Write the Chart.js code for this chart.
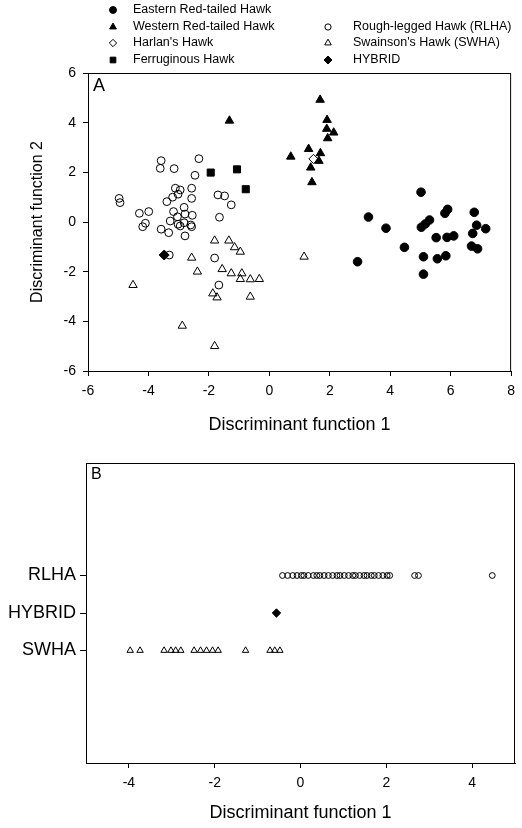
<!DOCTYPE html>
<html>
<head>
<meta charset="utf-8">
<script src="https://cdn.jsdelivr.net/npm/chart.js@4.4.1/dist/chart.umd.min.js"></script>
<style>
  body { margin: 0; background: #fff; }
  canvas { display: block; }
</style>
</head>
<body>
<canvas id="panelA" width="522" height="440"></canvas>
<canvas id="panelB" width="522" height="388"></canvas>
<script>
// Panel A: discriminant function 1 / 2 scores per group, [df1, df2]
const eastern = [
  [5.02, 1.20], [3.28, 0.20], [3.86, -0.25], [5.90, 0.51], [5.81, 0.35], [5.30, 0.08],
  [5.16, -0.08], [5.03, -0.21], [6.78, 0.39], [6.86, -0.13], [7.16, -0.27], [6.73, -0.46],
  [5.52, -0.63], [5.88, -0.62], [6.10, -0.56], [4.47, -1.02], [6.69, -0.97], [6.89, -1.08],
  [5.10, -1.40], [5.56, -1.48], [5.84, -1.36], [2.92, -1.60], [5.10, -2.10]
];
const western = [
  [-1.32, 4.08], [0.71, 2.63], [1.68, 4.92], [1.91, 4.11], [1.90, 3.75], [2.13, 3.60],
  [1.93, 3.37], [1.30, 2.94], [1.69, 2.77], [1.64, 2.46], [1.37, 2.19], [1.41, 1.60]
];
const harlan = [[1.46, 2.54]];
const ferruginous = [[-1.94, 1.99], [-1.07, 2.12], [-0.78, 1.32]];
const roughLegged = [
  [-4.97, 0.95], [-4.94, 0.78], [-4.30, 0.35], [-3.99, 0.42], [-4.19, -0.19], [-4.10, -0.05],
  [-3.61, 2.16], [-3.58, 2.47], [-3.15, 2.15], [-2.33, 2.55], [-2.46, 1.88], [-3.11, 1.36],
  [-2.95, 1.29], [-2.57, 1.36], [-3.20, 1.00], [-3.02, 1.12], [-2.57, 0.95], [-3.39, 0.82],
  [-2.82, 0.59], [-3.17, 0.42], [-3.04, 0.21], [-2.79, 0.32], [-2.55, 0.27], [-3.28, 0.04],
  [-3.02, -0.09], [-2.82, -0.03], [-2.95, -0.16], [-2.60, -0.12], [-2.57, -0.19], [-3.58, -0.29],
  [-3.33, -0.43], [-2.79, -0.56], [-1.70, 1.09], [-1.48, 1.05], [-1.26, 0.69], [-1.65, 0.19],
  [-3.31, -1.33], [-1.81, -1.45], [-1.67, -2.54]
];
const swainson = [
  [-1.81, -0.75], [-1.34, -0.75], [-1.15, -1.02], [-0.96, -1.20], [-2.57, -1.44], [-2.38, -2.00],
  [-1.56, -1.90], [-1.26, -2.07], [-0.91, -2.07], [-0.96, -2.30], [-0.63, -2.31], [-0.33, -2.30],
  [-4.51, -2.54], [-1.87, -2.88], [-1.73, -3.04], [-0.63, -3.01], [-2.88, -4.18], [-1.81, -5.00],
  [1.15, -1.40]
];
const hybrid = [[-3.48, -1.33]];

// Panel B: discriminant function 1 scores
const groupNames = ['SWHA', 'HYBRID', 'RLHA'];
const bTicks = [-4, -2, 0, 2, 4];
const swhaScores = [-3.97, -3.74, -3.18, -3.02, -2.91, -2.79, -2.48, -2.33, -2.19, -2.05, -1.92,
  -1.28, -0.71, -0.60, -0.48];
const hybridScores = [-0.56];
const rlhaScores = [-0.42, -0.30, -0.18, -0.08, 0.02, 0.08, 0.18, 0.30, 0.38, 0.45, 0.55, 0.65,
  0.75, 0.85, 0.92, 1.02, 1.12, 1.22, 1.28, 1.38, 1.48, 1.55, 1.65, 1.72, 1.82, 1.92, 2.02, 2.08,
  2.66, 2.75, 4.47];

const toXY = arr => arr.map(([x, y]) => ({ x: x, y: y }));
const onRow = (arr, row) => arr.map(x => ({ x: x, y: row }));

const FONT = 'Arial, "Liberation Sans", sans-serif';
const OPEN = 'rgba(0,0,0,0)';

function series(label, data, style, radius, filled) {
  return {
    label: label,
    data: data,
    pointStyle: style,
    pointRadius: radius,
    borderWidth: 1,
    borderColor: '#000',
    backgroundColor: filled ? '#000' : OPEN,
    showLine: false
  };
}

// full box round the plot area + panel letter
const frame = {
  id: 'frame',
  afterDraw(chart) {
    const a = chart.chartArea, ctx = chart.ctx;
    ctx.save();
    ctx.strokeStyle = '#000';
    ctx.lineWidth = 1;
    ctx.strokeRect(a.left + 0.5, a.top + 0.5, a.right - a.left - 1, a.bottom - a.top);
    ctx.font = chart.options.plugins.frame.font;
    ctx.fillStyle = '#000';
    ctx.textBaseline = 'top';
    ctx.fillText(chart.options.plugins.frame.letter, a.left + 5, a.top + 4);
    ctx.restore();
  }
};

// legend placed in two columns above panel A
const legendSlots = [[113, 10], [113, 27], [113, 43], [113, 60], [328, 27], [328, 43], [328, 60]];
const legendOrder = ['Eastern Red-tailed Hawk', 'Western Red-tailed Hawk', "Harlan's Hawk",
  'Ferruginous Hawk', 'Rough-legged Hawk (RLHA)', "Swainson's Hawk (SWHA)", 'HYBRID'];

const topLegend = {
  id: 'topLegend',
  afterDraw(chart) {
    const ctx = chart.ctx;
    ctx.save();
    ctx.font = '12.5px ' + FONT;
    ctx.textBaseline = 'middle';
    legendOrder.forEach((name, i) => {
      const ds = chart.data.datasets.find(d => d.label === name);
      const [x, y] = legendSlots[i];
      ctx.fillStyle = ds.backgroundColor;
      ctx.strokeStyle = '#000';
      ctx.lineWidth = 1;
      Chart.helpers.drawPoint(ctx, {
        pointStyle: ds.pointStyle, radius: ds.pointRadius * 0.8, rotation: 0, borderWidth: 1
      }, x, y);
      ctx.fillStyle = '#000';
      ctx.fillText(name, x + 20 + (i > 3 ? 5 : 0), y);
    });
    ctx.restore();
  }
};

function axis(min, max, title, titleSize, titlePad, extra) {
  return Object.assign({
    type: 'linear',
    min: min,
    max: max,
    grid: { drawOnChartArea: false, drawTicks: true, tickLength: 5, color: '#000' },
    border: { display: true, color: '#000', width: 1 },
    ticks: { stepSize: 2, color: '#000', font: { family: FONT, size: 14 }, padding: 7 },
    title: { display: true, text: title, color: '#000', font: { family: FONT, size: titleSize }, padding: titlePad }
  }, extra || {});
}

new Chart(document.getElementById('panelA'), {
  type: 'scatter',
  data: {
    datasets: [
      series('Rough-legged Hawk (RLHA)', toXY(roughLegged), 'circle', 3.9, false),
      series("Swainson's Hawk (SWHA)", toXY(swainson), 'triangle', 4.8, false),
      series("Harlan's Hawk", toXY(harlan), 'rectRot', 4.6, false),
      series('Eastern Red-tailed Hawk', toXY(eastern), 'circle', 4.3, true),
      series('Western Red-tailed Hawk', toXY(western), 'triangle', 4.9, true),
      series('Ferruginous Hawk', toXY(ferruginous), 'rect', 5, true),
      series('HYBRID', toXY(hybrid), 'rectRot', 5, true)
    ]
  },
  options: {
    responsive: false,
    animation: false,
    layout: { padding: { top: 73, right: 6, left: 0, bottom: 0 } },
    plugins: {
      legend: { display: false },
      tooltip: { enabled: false },
      frame: { letter: 'A', font: '18px ' + FONT }
    },
    scales: {
      x: axis(-6, 8, 'Discriminant function 1', 18, { top: 0, bottom: 4 }, {
        afterFit(scale) { scale.height = 69; }
      }),
      y: axis(-6, 6, 'Discriminant function 2', 16, { top: 28, bottom: 0 }, {
        afterFit(scale) { scale.width = 88; }
      })
    }
  },
  plugins: [frame, topLegend]
});

new Chart(document.getElementById('panelB'), {
  type: 'scatter',
  data: {
    datasets: [
      series('RLHA', onRow(rlhaScores, 3), 'circle', 2.9, false),
      series('SWHA', onRow(swhaScores, 1), 'triangle', 3.7, false),
      series('HYBRID', onRow(hybridScores, 2), 'rectRot', 4.2, true)
    ]
  },
  options: {
    responsive: false,
    animation: false,
    layout: { padding: { top: 23, right: 7, left: 0, bottom: 0 } },
    plugins: {
      legend: { display: false },
      tooltip: { enabled: false },
      frame: { letter: 'B', font: '16px ' + FONT }
    },
    scales: {
      x: axis(-5, 5, 'Discriminant function 1', 18, { top: 0, bottom: 4 }, {
        afterBuildTicks(scale) { scale.ticks = bTicks.map(v => ({ value: v })); },
        afterFit(scale) { scale.height = 65; }
      }),
      y: axis(-2, 6, '', 16, 0, {
        title: { display: false },
        ticks: {
          color: '#000', font: { family: FONT, size: 18 }, padding: 4,
          callback: v => groupNames[v - 1]
        },
        grid: { drawOnChartArea: false, drawTicks: true, tickLength: 6, color: '#000' },
        afterBuildTicks(scale) { scale.ticks = groupNames.map((n, i) => ({ value: i + 1 })); },
        afterFit(scale) { scale.width = 86; }
      })
    }
  },
  plugins: [frame]
});
</script>
</body>
</html>
